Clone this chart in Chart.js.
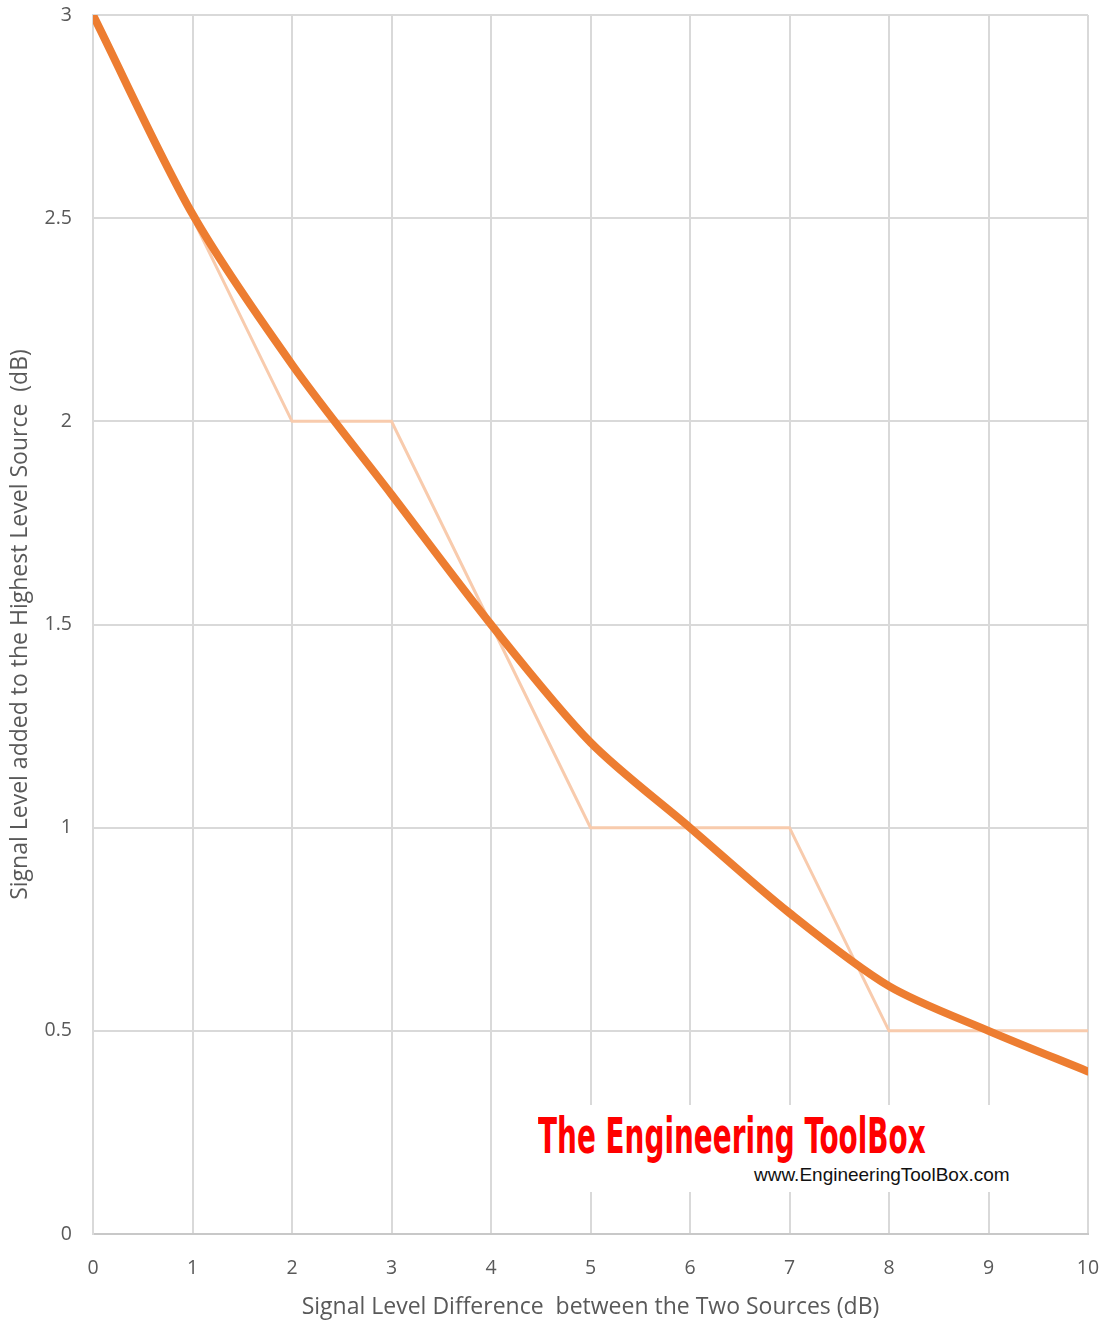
<!DOCTYPE html>
<html>
<head>
<meta charset="utf-8">
<script src="https://cdn.jsdelivr.net/npm/chart.js@4.4.0/dist/chart.umd.min.js"></script>
<style>
  html, body { margin: 0; padding: 0; background: #ffffff; }
  #wrap { position: relative; width: 1111px; height: 1321px; }
  #c { display: block; }
  #wm { position: absolute; left: 530px; top: 1105px; width: 495px; height: 87px; background: #ffffff; }
  #wm1 { position: absolute; left: 8px; top: 2px; font-family: "Liberation Sans Narrow", "DejaVu Sans Condensed", "Liberation Sans", sans-serif; font-weight: bold; font-size: 50px; color: #ff0000; transform-origin: 0 0; transform: scaleX(0.62); white-space: nowrap; }
  #wm2 { position: absolute; left: 224px; top: 59px; font-family: "Liberation Sans", Arial, sans-serif; font-size: 19px; color: #111111; transform-origin: 0 0; transform: scaleX(1.0); white-space: nowrap; }
</style>
</head>
<body>
<div id="wrap">
  <canvas id="c" width="1111" height="1321"></canvas>
  <div id="wm"><div id="wm1">The Engineering ToolBox</div><div id="wm2">www.EngineeringToolBox.com</div></div>
</div>
<script>
// Step (rule-of-thumb) series
const stepX = [0, 1, 2, 3, 4, 5, 6, 7, 8, 9, 10];
const stepY = [3, 2.5, 2, 2, 1.5, 1, 1, 1, 0.5, 0.5, 0.5];
// Exact curve series
const curveX = [0, 1, 2, 3, 4, 5, 6, 7, 8, 9, 10];
const curveY = [3.0, 2.51, 2.14, 1.82, 1.5, 1.21, 1.0, 0.79, 0.61, 0.5, 0.4];
const xTitle = 'Signal Level Difference  between the Two Sources (dB)';
const yTitle = 'Signal Level added to the Highest Level Source  (dB)';

const stepData = stepX.map((x, i) => ({ x: x, y: stepY[i] }));
const curveData = curveX.map((x, i) => ({ x: x, y: curveY[i] }));

const tickFont = { family: 'Open Sans', size: 19.5 };
const titleFont = { family: 'Open Sans', size: 23 };

new Chart(document.getElementById('c'), {
  type: 'scatter',
  data: {
    datasets: [
      {
        label: 'Exact',
        data: curveData,
        showLine: true,
        borderColor: '#ed7d31',
        borderWidth: 8,
        pointRadius: 0,
        tension: 0.3,
        borderCapStyle: 'round',
        borderJoinStyle: 'round',
        order: 1
      },
      {
        label: 'Rule',
        data: stepData,
        showLine: true,
        borderColor: '#f8cbad',
        borderWidth: 3,
        pointRadius: 0,
        tension: 0,
        order: 2
      }
    ]
  },
  options: {
    responsive: false,
    animation: false,
    devicePixelRatio: 1,
    layout: { padding: { top: 15, right: 23, left: 7, bottom: 0 } },
    plugins: { legend: { display: false }, tooltip: { enabled: false } },
    scales: {
      x: {
        type: 'linear',
        min: 0, max: 10,
        ticks: { stepSize: 1, color: '#595959', font: tickFont, padding: 23, maxRotation: 0 },
        grid: { color: '#d9d9d9', lineWidth: 2, drawTicks: false },
        border: { color: '#c8c8c8', width: 2 },
        title: { display: true, text: xTitle, color: '#595959', font: titleFont, padding: { top: 4, bottom: 0 } },
        afterFit: (s) => { s.height = 87; s.paddingLeft = 0; s.paddingRight = 0; }
      },
      y: {
        type: 'linear',
        min: 0, max: 3,
        ticks: { stepSize: 0.5, color: '#595959', font: tickFont, padding: 21, callback: (v) => String(v) },
        grid: { color: '#d9d9d9', lineWidth: 2, drawTicks: false },
        border: { color: '#d9d9d9', width: 2 },
        title: { display: true, text: yTitle, color: '#595959', font: titleFont, padding: { top: 0, bottom: 0 } },
        afterFit: (s) => { s.width = 86; s.paddingTop = 0; s.paddingBottom = 0; }
      }
    }
  }
});
</script>
</body>
</html>
